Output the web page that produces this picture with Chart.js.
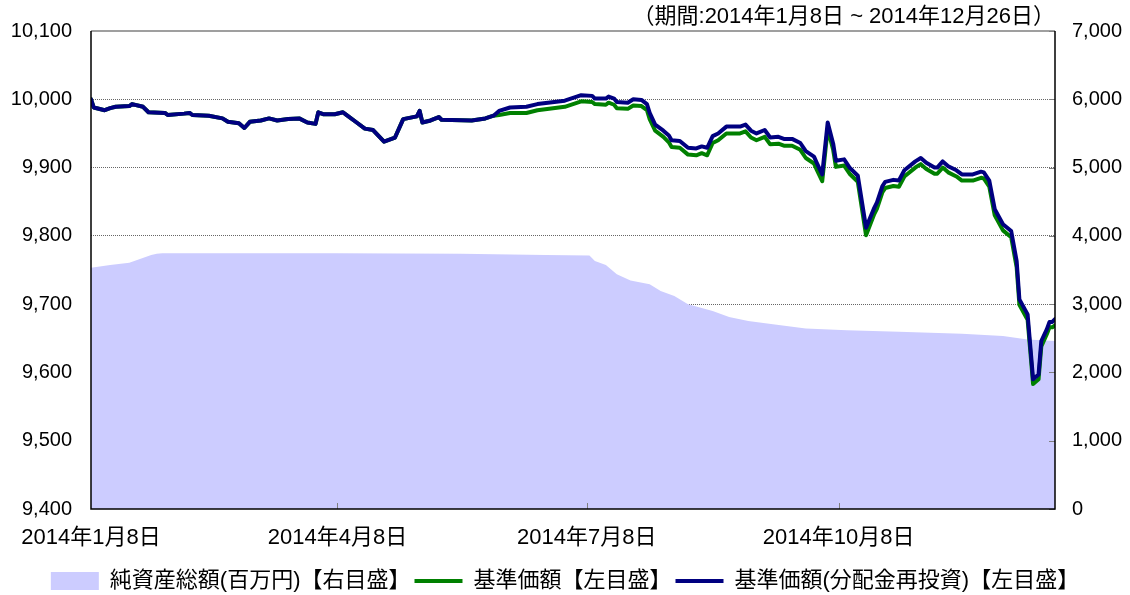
<!DOCTYPE html>
<html>
<head>
<meta charset="utf-8">
<script src="https://cdn.jsdelivr.net/npm/chart.js@4.4.1/dist/chart.umd.min.js"></script>
<style>
  html, body { margin: 0; padding: 0; background: #fff; overflow: hidden; }
  #wrap { width: 1130px; height: 595px; overflow: hidden; }
</style>
</head>
<body>
<div id="wrap"><canvas id="navChart" width="1130" height="602"></canvas></div>
<script>
// 基準価額 / 基準価額(分配金再投資) の日付
const navDates = [
  '2014-01-08','2014-01-09','2014-01-13','2014-01-15','2014-01-17','2014-01-22','2014-01-23','2014-01-27','2014-01-29',
  '2014-02-04','2014-02-05','2014-02-11','2014-02-13','2014-02-14','2014-02-20','2014-02-25','2014-02-27',
  '2014-03-03','2014-03-05','2014-03-07','2014-03-11','2014-03-14','2014-03-17','2014-03-21','2014-03-25','2014-03-28','2014-03-31',
  '2014-04-01','2014-04-03','2014-04-07','2014-04-10','2014-04-11','2014-04-15','2014-04-18','2014-04-21','2014-04-25','2014-04-29',
  '2014-05-02','2014-05-07','2014-05-08','2014-05-09','2014-05-12','2014-05-15','2014-05-16','2014-05-27',
  '2014-06-01','2014-06-04','2014-06-06','2014-06-10','2014-06-16','2014-06-20','2014-06-30',
  '2014-07-03','2014-07-06','2014-07-10','2014-07-11','2014-07-15','2014-07-16','2014-07-18','2014-07-19','2014-07-23','2014-07-25','2014-07-28','2014-07-30','2014-07-31',
  '2014-08-02','2014-08-05','2014-08-07','2014-08-08','2014-08-11','2014-08-14','2014-08-17','2014-08-19','2014-08-21','2014-08-23','2014-08-25','2014-08-28',
  '2014-09-02','2014-09-04','2014-09-06','2014-09-08','2014-09-11','2014-09-13','2014-09-16','2014-09-18','2014-09-21','2014-09-24','2014-09-26','2014-09-29','2014-09-30',
  '2014-10-02','2014-10-04','2014-10-06','2014-10-07','2014-10-10','2014-10-12','2014-10-15','2014-10-18','2014-10-21','2014-10-22','2014-10-24','2014-10-25','2014-10-28','2014-10-30',
  '2014-11-01','2014-11-05','2014-11-07','2014-11-09','2014-11-12','2014-11-13','2014-11-15','2014-11-17','2014-11-20','2014-11-22','2014-11-26','2014-11-29','2014-11-30',
  '2014-12-02','2014-12-04','2014-12-07','2014-12-10','2014-12-12','2014-12-13','2014-12-16','2014-12-18','2014-12-20','2014-12-21','2014-12-23','2014-12-24','2014-12-25','2014-12-26'
];

// 基準価額【左目盛】
const navValues = [
  10000,9988,9984,9987,9989,9990,9993,9989,9981,
  9980,9977,9979,9980,9977,9976,9972,9967,
  9965,9958,9967,9969,9972,9969,9971,9972,9966,9964,
  9981,9978,9978,9981,9978,9966,9957,9955,9938,9944,
  9971,9975,9983,9966,9969,9974,9970,9969,
  9972,9976,9977,9980,9980,9984,9989,
  9993,9997,9996,9993,9992,9995,9992,9987,9986,9991,9990,9984,9971,
  9954,9945,9937,9930,9929,9919,9918,9921,9918,9936,9940,9950,
  9950,9953,9944,9940,9945,9934,9935,9932,9932,9926,9914,9906,9897,
  9880,9957,9926,9901,9903,9891,9879,9801,9832,9840,9864,9870,9873,9872,
  9887,9900,9905,9898,9891,9891,9900,9893,9887,9881,9881,9885,9884,
  9872,9830,9808,9798,9754,9699,9677,9583,9590,9638,9656,9666,9666,9669
];

// 基準価額(分配金再投資)【左目盛】
const navReinvValues = [
  10000,9988,9984,9987,9989,9990,9993,9989,9981,
  9980,9977,9979,9980,9977,9976,9972,9967,
  9965,9958,9967,9969,9972,9969,9971,9972,9966,9964,
  9981,9978,9978,9981,9978,9966,9957,9955,9938,9944,
  9971,9975,9983,9966,9969,9974,9970,9969,
  9972,9976,9983,9988,9989,9993,9998,
  10002,10006,10005,10001,10001,10004,10001,9996,9995,10000,9999,9993,9980,
  9963,9954,9947,9940,9939,9929,9928,9931,9929,9946,9950,9960,
  9960,9963,9954,9950,9955,9944,9945,9942,9942,9936,9924,9916,9907,
  9890,9966,9935,9910,9912,9900,9888,9812,9841,9849,9873,9879,9882,9881,
  9896,9909,9914,9907,9900,9900,9909,9902,9896,9890,9890,9894,9893,
  9881,9839,9817,9807,9763,9707,9685,9590,9597,9646,9663,9674,9674,9678
];

// 純資産総額(百万円)【右目盛】
const assetDates = [
  '2014-01-08','2014-01-15','2014-01-22','2014-01-30','2014-02-01','2014-02-03','2014-04-08','2014-05-23','2014-06-23',
  '2014-07-09','2014-07-11','2014-07-15','2014-07-19','2014-07-24','2014-07-31','2014-08-04','2014-08-09','2014-08-14',
  '2014-08-23','2014-08-29','2014-09-05','2014-09-14','2014-09-26','2014-10-11','2014-10-30','2014-11-22','2014-12-07','2014-12-16','2014-12-26'
];
const assetValues = [
  3534,3572,3606,3719,3738,3745,3745,3738,3719,
  3714,3631,3572,3436,3348,3290,3192,3118,2997,
  2899,2811,2752,2704,2645,2616,2596,2566,2533,2484,2460
];

const xTickDates = ['2014-01-08', '2014-04-08', '2014-07-08', '2014-10-08'];
const xTickLabels = ['2014年1月8日', '2014年4月8日', '2014年7月8日', '2014年10月8日'];
const periodText = '（期間:2014年1月8日 ~ 2014年12月26日）';

const startMs = Date.parse('2014-01-08');
function dayOf(s) {
    return (Date.parse(s) - startMs) / 86400000;
}

const FONT = "'Liberation Sans', Arial, 'Noto Sans CJK JP', sans-serif";
Chart.defaults.font.family = FONT;
Chart.defaults.font.size = 20;
Chart.defaults.color = '#000';

// frame and small inner tick marks, drawn over the area fill
const framePlugin = {
    id: 'frame',
    afterDatasetsDraw(chart) {
        const { ctx, chartArea: a, scales } = chart;
        ctx.save();
        ctx.strokeStyle = '#808080';
        ctx.lineWidth = 1;
        ctx.beginPath();
        xTickDates.slice(1).forEach(d => {
            const px = Math.round(scales.x.getPixelForValue(dayOf(d))) + 0.5;
            ctx.moveTo(px, a.bottom);
            ctx.lineTo(px, a.bottom - 6);
        });
        scales.y2.ticks.forEach(t => {
            const py = Math.round(scales.y2.getPixelForValue(t.value)) + 0.5;
            ctx.moveTo(a.right, py);
            ctx.lineTo(a.right - 6, py);
        });
        ctx.stroke();

        ctx.strokeStyle = '#7f7f7f';
        ctx.lineWidth = 1.5;
        ctx.beginPath();
        ctx.moveTo(a.left, a.top);
        ctx.lineTo(a.right, a.top);
        ctx.stroke();

        ctx.strokeStyle = '#000';
        ctx.beginPath();
        ctx.moveTo(a.left, a.top);
        ctx.lineTo(a.left, a.bottom);
        ctx.lineTo(a.right, a.bottom);
        ctx.lineTo(a.right, a.top);
        ctx.stroke();
        ctx.restore();
    }
};

const ctx = document.getElementById('navChart').getContext('2d');
new Chart(ctx, {
    type: 'line',
    data: {
        datasets: [
            {
                label: '純資産総額(百万円)【右目盛】',
                data: assetDates.map((d, i) => ({ x: dayOf(d), y: assetValues[i] })),
                yAxisID: 'y2',
                fill: 'start',
                backgroundColor: '#ccccff',
                borderColor: '#ccccff',
                borderWidth: 0,
                pointRadius: 0,
                tension: 0,
                order: 3
            },
            {
                label: '基準価額【左目盛】',
                data: navDates.map((d, i) => ({ x: dayOf(d), y: navValues[i] })),
                yAxisID: 'y',
                borderColor: '#008000',
                borderWidth: 4,
                borderJoinStyle: 'round',
                borderCapStyle: 'round',
                pointRadius: 0,
                fill: false,
                tension: 0,
                order: 2
            },
            {
                label: '基準価額(分配金再投資)【左目盛】',
                data: navDates.map((d, i) => ({ x: dayOf(d), y: navReinvValues[i] })),
                yAxisID: 'y',
                borderColor: '#000080',
                borderWidth: 4,
                borderJoinStyle: 'round',
                borderCapStyle: 'round',
                pointRadius: 0,
                fill: false,
                tension: 0,
                order: 1
            }
        ]
    },
    options: {
        responsive: false,
        animation: false,
        layout: { padding: { left: 0, right: 0, top: 0, bottom: 0 } },
        scales: {
            x: {
                type: 'linear',
                min: 0,
                max: dayOf('2014-12-26'),
                afterBuildTicks: s => { s.ticks = xTickDates.map(d => ({ value: dayOf(d) })); },
                afterFit: s => { s.height = 57; },
                ticks: {
                    autoSkip: false,
                    maxRotation: 0,
                    padding: 16,
                    font: { size: 22 },
                    callback: (v, i) => xTickLabels[i]
                },
                grid: { display: false, drawTicks: false },
                border: { display: false }
            },
            y: {
                position: 'left',
                min: 9400,
                max: 10100,
                afterFit: s => { s.width = 91; },
                ticks: {
                    stepSize: 100,
                    padding: 19,
                    callback: v => v.toLocaleString('en-US')
                },
                grid: {
                    drawTicks: false,
                    lineWidth: 1,
                    color: c => (c.tick && (c.tick.value === 10100 || c.tick.value === 9400)) ? 'rgba(0,0,0,0)' : '#666'
                },
                border: { display: false, dash: [1, 1] }
            },
            y2: {
                position: 'right',
                min: 0,
                max: 7000,
                afterFit: s => { s.width = 75; },
                ticks: {
                    stepSize: 1000,
                    padding: 17,
                    callback: v => v.toLocaleString('en-US')
                },
                grid: { drawOnChartArea: false, drawTicks: false },
                border: { display: false }
            }
        },
        plugins: {
            title: {
                display: true,
                text: periodText,
                align: 'end',
                fullSize: false,
                color: '#000',
                padding: { top: 3, bottom: 1 },
                font: { size: 22, weight: 'normal' }
            },
            legend: {
                position: 'bottom',
                labels: {
                    usePointStyle: true,
                    pointStyleWidth: 48,
                    boxHeight: 18,
                    padding: 4,
                    color: '#000',
                    font: { size: 22 },
                    generateLabels: chart => chart.data.datasets.map((ds, i) => ({
                        text: ds.label,
                        datasetIndex: i,
                        pointStyle: i === 0 ? 'rect' : 'line',
                        fillStyle: i === 0 ? '#ccccff' : ds.borderColor,
                        strokeStyle: i === 0 ? '#ccccff' : ds.borderColor,
                        lineWidth: i === 0 ? 0 : 4,
                        hidden: false
                    }))
                }
            },
            tooltip: { enabled: false }
        }
    },
    plugins: [framePlugin]
});
</script>
</body>
</html>
